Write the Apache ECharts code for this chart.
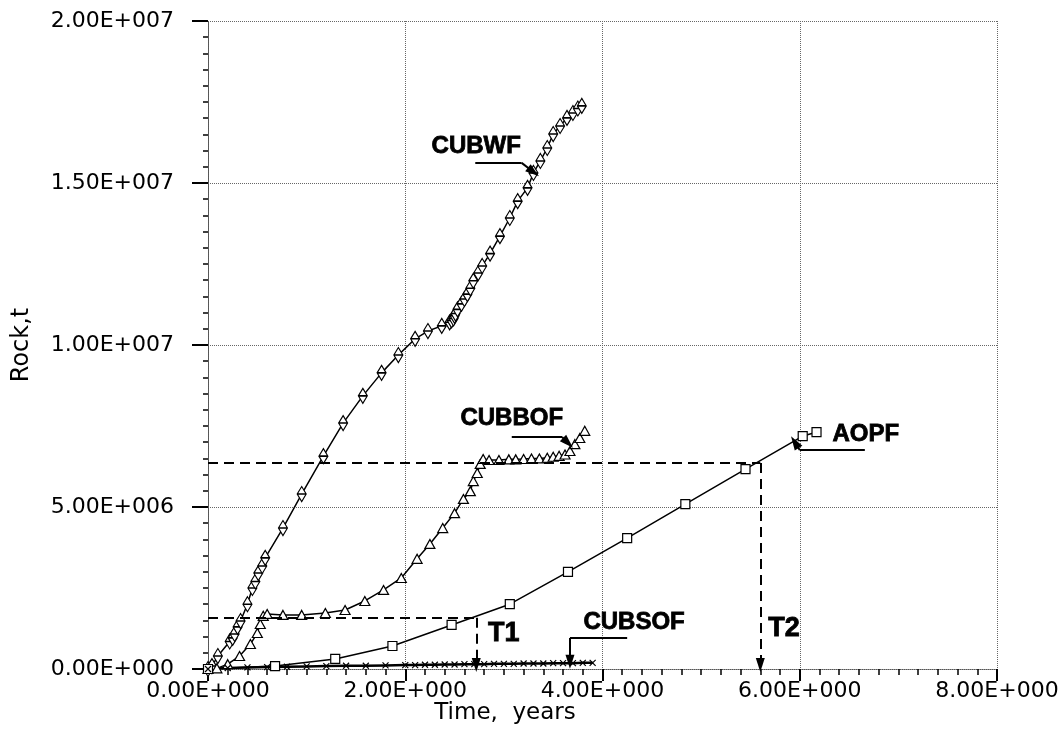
<!DOCTYPE html>
<html><head><meta charset="utf-8">
<script src="https://cdn.jsdelivr.net/npm/echarts@6/dist/echarts.min.js"></script>
<style>html,body{margin:0;padding:0;background:#fff}#c{width:1063px;height:743px}</style>
</head><body><div id="c"></div><script>
// Tick labels
const xTickLabels = ['0.00E+000','2.00E+000','4.00E+000','6.00E+000','8.00E+000'];
const yTickLabels = ['0.00E+000','5.00E+006','1.00E+007','1.50E+007','2.00E+007'];
// Series: [time (years), rock (million t)]
const cubwf = [[0.0,0.0],[0.04,0.09],[0.1,0.4],[0.22,0.85],[0.25,0.96],[0.27,1.08],[0.3,1.3],[0.33,1.48],[0.4,2.0],[0.45,2.5],[0.48,2.7],[0.51,2.96],[0.55,3.18],[0.58,3.43],[0.76,4.35],[0.95,5.40],[1.17,6.57],[1.37,7.59],[1.57,8.43],[1.76,9.14],[1.93,9.69],[2.10,10.19],[2.23,10.43],[2.37,10.59],[2.45,10.7],[2.47,10.76],[2.49,10.82],[2.5,10.9],[2.51,10.97],[2.53,11.1],[2.57,11.27],[2.6,11.42],[2.63,11.57],[2.66,11.75],[2.69,11.98],[2.74,12.22],[2.78,12.44],[2.86,12.82],[2.96,13.36],[3.06,13.92],[3.14,14.44],[3.24,14.85],[3.30,15.31],[3.37,15.68],[3.44,16.08],[3.50,16.51],[3.57,16.76],[3.64,17.01],[3.70,17.16],[3.75,17.3],[3.79,17.38]];
const cubbof = [[0.0,0.0],[0.09,0.02],[0.2,0.15],[0.32,0.4],[0.43,0.77],[0.5,1.11],[0.53,1.39],[0.56,1.64],[0.6,1.70],[0.76,1.67],[0.95,1.67],[1.19,1.73],[1.39,1.82],[1.59,2.1],[1.78,2.44],[1.96,2.81],[2.12,3.4],[2.25,3.86],[2.38,4.35],[2.5,4.81],[2.59,5.25],[2.66,5.49],[2.69,5.8],[2.73,6.05],[2.76,6.33],[2.79,6.48],[2.85,6.45],[2.95,6.45],[3.05,6.47],[3.12,6.47],[3.2,6.48],[3.28,6.5],[3.36,6.5],[3.44,6.52],[3.5,6.55],[3.56,6.58],[3.62,6.62],[3.67,6.73],[3.72,6.94],[3.77,7.13],[3.82,7.35]];
const aopf = [[0.0,0.0],[0.68,0.09],[1.29,0.31],[1.87,0.71],[2.47,1.36],[3.06,2.0],[3.65,3.0],[4.25,4.04],[4.84,5.09],[5.45,6.17],[6.03,7.19],[6.17,7.31]];
const cubsof = [[0.0,0.0],[0.2,0.03],[0.4,0.05],[0.6,0.06],[0.8,0.07],[1.0,0.08],[1.2,0.09],[1.4,0.1],[1.6,0.1],[1.8,0.11],[2.0,0.12],[2.1,0.12],[2.2,0.13],[2.3,0.13],[2.4,0.14],[2.5,0.14],[2.6,0.15],[2.7,0.15],[2.8,0.15],[2.9,0.16],[3.0,0.16],[3.1,0.16],[3.2,0.17],[3.3,0.17],[3.4,0.17],[3.5,0.18],[3.6,0.18],[3.7,0.18],[3.8,0.19],[3.9,0.19]];
// Annotation guide lines (dashed) and label pointers, in data coordinates
const guideT1 = [[0,1.58],[2.72,1.58],[2.72,0.12]];
const guideT2 = [[0,6.36],[5.6,6.36],[5.6,0.12]];
const pointerCUBWF = [[2.71,15.62],[3.18,15.62],[3.30,15.34]];
const pointerCUBBOF = [[3.08,7.16],[3.59,7.16],[3.65,6.98]];
const pointerAOPF = [[6.66,6.76],[6.0,6.76],[5.95,7.0]];
const pointerCUBSOF = [[4.25,0.96],[3.67,0.96],[3.67,0.22]];
const labelNames = ['CUBWF','CUBBOF','AOPF','CUBSOF','T1','T2'];
const labelPos = [[2.72,16.14],[3.08,7.72],[6.67,7.25],[4.32,1.45],[3.0,1.08],[5.84,1.25]];
const labelSizes = [24,24,24,24,27,27];

function segs(poly, style){
  const out=[];
  for(let i=0;i<poly.length-1;i++){
    const last = i===poly.length-2;
    out.push([{coord:poly[i], symbol:'none', lineStyle:style},
              {coord:poly[i+1], symbol:last?'triangle':'none', symbolSize:[9,14]}]);
  }
  return out;
}
const dashStyle = {color:'#000', width:2, type:[10,6]};
const solidStyle = {color:'#000', width:2, type:'solid'};

const diamondBar = 'path://M5,0 L10,9 L5,18 L0,9 Z M0,9 L10,9';
const crossMark = 'path://M0,0 L10,10 M10,0 L0,10';
const lineBase = {type:'line', smooth:false, silent:true, animation:false,
  lineStyle:{color:'#000', width:1.5}, itemStyle:{color:'#fff', borderColor:'#000', borderWidth:1.2}, z:3};

const chart = echarts.init(document.getElementById('c'), null, {renderer:'canvas'});
const axisFont = {fontFamily:'DejaVu Sans', fontSize:22, color:'#000'};
chart.setOption({
  animation:false,
  backgroundColor:'#fff',
  grid:{left:208, right:66, top:21, bottom:74},
  xAxis:{type:'value', min:0, max:8, interval:2,
    axisLine:{show:true, lineStyle:{color:'#555', type:'dotted', width:1}},
    axisTick:{show:true, length:12, lineStyle:{color:'#000', width:2}},
    minorTick:{show:true, splitNumber:10, length:6, lineStyle:{color:'#000', width:1.5}},
    splitLine:{show:true, lineStyle:{color:'#666', type:'dotted', width:1}},
    axisLabel:Object.assign({margin:11, formatter:(v,i)=>xTickLabels[i]}, axisFont)
  },
  yAxis:{type:'value', min:0, max:20, interval:5,
    name:'Rock,t', nameLocation:'middle', nameGap:174, nameRotate:90,
    nameTextStyle:{fontFamily:'DejaVu Sans', fontSize:24, color:'#000'},
    axisLine:{show:true, lineStyle:{color:'#555', type:'dotted', width:1}},
    axisTick:{show:true, length:16, lineStyle:{color:'#000', width:2}},
    minorTick:{show:true, splitNumber:10, length:5, lineStyle:{color:'#000', width:1.5}},
    splitLine:{show:true, lineStyle:{color:'#666', type:'dotted', width:1}},
    axisLabel:Object.assign({margin:34, formatter:(v,i)=>yTickLabels[i]}, axisFont)
  },
  graphic:[{type:'text', x:505, y:713, silent:true,
    style:{text:'Time,  years', font:'23px "DejaVu Sans"', fill:'#000', align:'center', verticalAlign:'middle'}}],
  series:[
    Object.assign({}, lineBase, {name:'CUBWF', data:cubwf, symbol:diamondBar, symbolSize:[9,15], showAllSymbol:true}),
    Object.assign({}, lineBase, {name:'CUBBOF', data:cubbof, symbol:'triangle', symbolSize:[10,9], showAllSymbol:true}),
    Object.assign({}, lineBase, {name:'AOPF', data:aopf, symbol:'rect', symbolSize:9, showAllSymbol:true,
      markLine:{silent:true, animation:false, label:{show:false}, symbol:['none','none'],
        data:[].concat(segs(guideT1,dashStyle), segs(guideT2,dashStyle))}}),
    Object.assign({}, lineBase, {name:'CUBSOF', data:cubsof, symbol:crossMark, symbolSize:6, showAllSymbol:true,
      lineStyle:{color:'#000', width:2.5},
      markLine:{silent:true, animation:false, label:{show:false}, symbol:['none','none'],
        data:[].concat(segs(pointerCUBWF,solidStyle), segs(pointerCUBBOF,solidStyle), segs(pointerAOPF,solidStyle), segs(pointerCUBSOF,solidStyle))}}),
    {type:'scatter', name:'labels', silent:true, symbolSize:0, z:5,
      data:labelPos.map((p,i)=>({name:labelNames[i], value:p, label:{fontSize:labelSizes[i]}})),
      label:{show:true, position:'inside', formatter:'{b}', color:'#000', opacity:1,
        textBorderColor:'#000', textBorderWidth:0.8,
        fontFamily:'Liberation Sans', fontWeight:'bold', fontSize:24}}
  ]
});
</script></body></html>
